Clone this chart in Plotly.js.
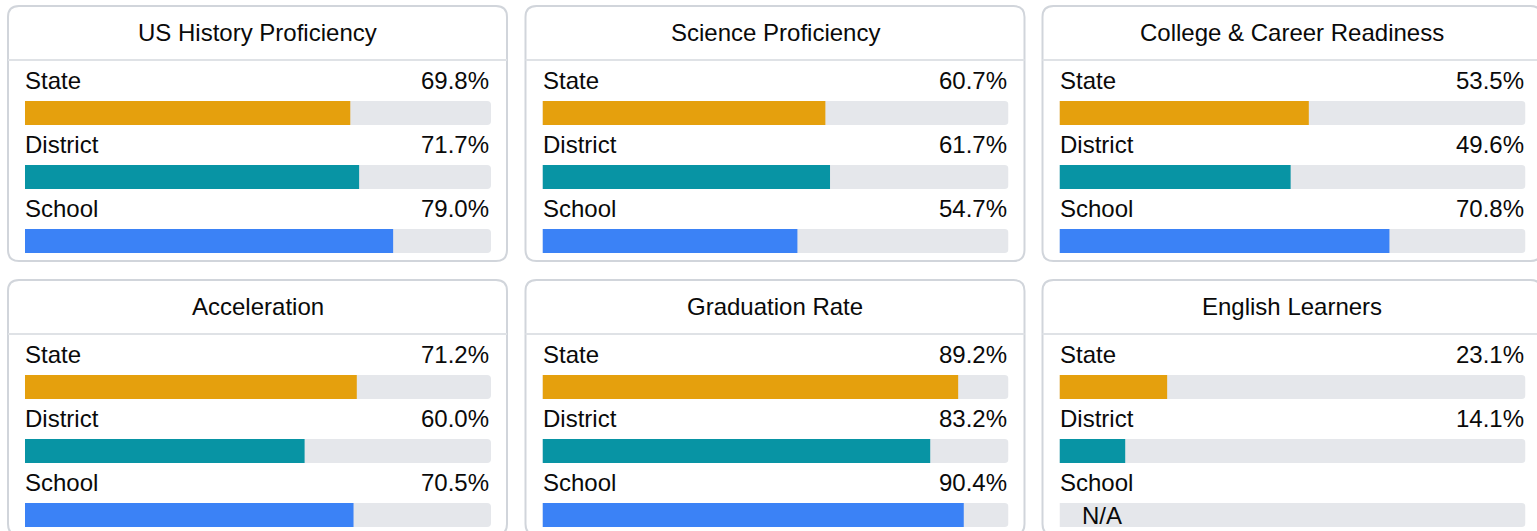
<!DOCTYPE html>
<html>
<head>
<meta charset="utf-8">
<script src="https://cdn.plot.ly/plotly-3.0.1.min.js"></script>
<style>
html,body{margin:0;padding:0;background:#fff;overflow:hidden;}
#chart{width:1537px;height:531px;}
</style>
</head>
<body>
<div id="chart"></div>
<script>
// ---- data ----
const metrics = ["US History Proficiency", "Science Proficiency", "College & Career Readiness",
                 "Acceleration", "Graduation Rate", "English Learners"];
const groups = ["State", "District", "School"];
const stateValues    = [69.8, 60.7, 53.5, 71.2, 89.2, 23.1];
const districtValues = [71.7, 61.7, 49.6, 60.0, 83.2, 14.1];
const schoolValues   = [79.0, 54.7, 70.8, 70.5, 90.4, null];
const maxValue = 100;
const naLabel = "N/A";

// ---- style ----
const W = 1537, H = 531;
const groupColors = ["#E5A00D", "#0894A4", "#3B82F6"];
const trackColor = "#E5E7EB";
const borderColor = "#D1D5DB";
const sepColor = "#DFE2E6";
const FONT = "Liberation Sans, Arial, sans-serif";
const TXT = 24;
const TXT_COLOR = "#0a0a0a";
const cardX = [8, 525.5, 1042.5];
const cardY = [6, 280];
const cardW = 499, cardH = 255, radius = 11;
const barLeft = 17, barWidthPx = 466;
// axis block: from label row of first group (cy+63) to bottom of last bar (cy+247), 64px per group
const blockTop = 63, blockBottom = 247;

const traces = [];
const shapes = [];
const annotations = [];
const layout = {
  width: W, height: H,
  margin: {l: 0, r: 0, t: 0, b: 0},
  paper_bgcolor: "#fff", plot_bgcolor: "rgba(0,0,0,0)",
  showlegend: false,
  barmode: "overlay",
  font: {family: FONT, color: TXT_COLOR, size: TXT},
  xaxis: {domain: [0, 1], range: [0, W], visible: false, fixedrange: true},
  yaxis: {domain: [0, 1], range: [H, 0], visible: false, fixedrange: true},
  shapes: shapes,
  annotations: annotations
};

function cardPath(x, y, w, h, r) {
  return `M${x + r},${y} L${x + w - r},${y} Q${x + w},${y} ${x + w},${y + r} ` +
         `L${x + w},${y + h - r} Q${x + w},${y + h} ${x + w - r},${y + h} ` +
         `L${x + r},${y + h} Q${x},${y + h} ${x},${y + h - r} L${x},${y + r} Q${x},${y} ${x + r},${y} Z`;
}

// hidden base trace so the pixel-frame axis exists
traces.push({x: [0], y: [0], type: "scatter", mode: "markers", marker: {opacity: 0}, hoverinfo: "skip", xaxis: "x", yaxis: "y"});

metrics.forEach((m, i) => {
  const col = i % 3, row = Math.floor(i / 3);
  const cx = cardX[col], cy = cardY[row];
  const k = i + 2;
  const xa = "x" + k, ya = "y" + k;
  const vals = [stateValues[i], districtValues[i], schoolValues[i]];

  // card frame + header separator
  shapes.push({type: "path", xref: "x", yref: "y", path: cardPath(cx, cy, cardW, cardH, radius),
               line: {color: borderColor, width: 2}, fillcolor: "rgba(0,0,0,0)", layer: "below"});
  shapes.push({type: "line", xref: "x", yref: "y", x0: cx, x1: cx + cardW, y0: cy + 54, y1: cy + 54,
               line: {color: sepColor, width: 2}, layer: "below"});

  // title
  annotations.push({xref: "x", yref: "y", x: cx + cardW / 2, y: cy + 27, text: m, showarrow: false,
                    xanchor: "center", yanchor: "middle", yshift: 1,
                    font: {size: TXT, family: FONT, color: TXT_COLOR}});

  // subplot axes
  const x0 = (cx + barLeft) / W, x1 = (cx + barLeft + barWidthPx) / W;
  const yTop = cy + blockTop, yBot = cy + blockBottom;
  layout["xaxis" + k] = {domain: [x0, x1], range: [0, maxValue], visible: false, fixedrange: true, anchor: ya};
  layout["yaxis" + k] = {domain: [1 - yBot / H, 1 - yTop / H], type: "category", categoryarray: groups,
                         range: [2.1875, -0.6875], visible: false, fixedrange: true, anchor: xa};

  // track
  traces.push({type: "bar", orientation: "h", y: groups, x: groups.map(() => maxValue),
               marker: {color: trackColor, cornerradius: 4}, width: 0.375, hoverinfo: "skip",
               xaxis: xa, yaxis: ya});
  // values
  traces.push({type: "bar", orientation: "h", y: groups, x: vals,
               marker: {color: groupColors, cornerradius: 4}, width: 0.375,
               hovertemplate: "%{y}: %{x:.1f}%<extra>" + m + "</extra>",
               xaxis: xa, yaxis: ya});

  groups.forEach((g, j) => {
    annotations.push({xref: xa, yref: ya, x: 0, y: j - 0.5, text: g, showarrow: false,
                      xanchor: "left", yanchor: "middle", xshift: -2, yshift: 1,
                      font: {size: TXT, family: FONT, color: TXT_COLOR}});
    if (vals[j] !== null) {
      annotations.push({xref: xa, yref: ya, x: maxValue, y: j - 0.5, text: vals[j].toFixed(1) + "%",
                        showarrow: false, xanchor: "right", yanchor: "middle", xshift: 0, yshift: 1,
                        font: {size: TXT, family: FONT, color: TXT_COLOR}});
    } else {
      annotations.push({xref: xa, yref: ya, x: 0, y: j, text: naLabel, showarrow: false,
                        xanchor: "left", yanchor: "middle", xshift: 20,
                        font: {size: TXT, family: FONT, color: TXT_COLOR}});
    }
  });
});

Plotly.newPlot("chart", traces, layout, {displayModeBar: false});
</script>
</body>
</html>
